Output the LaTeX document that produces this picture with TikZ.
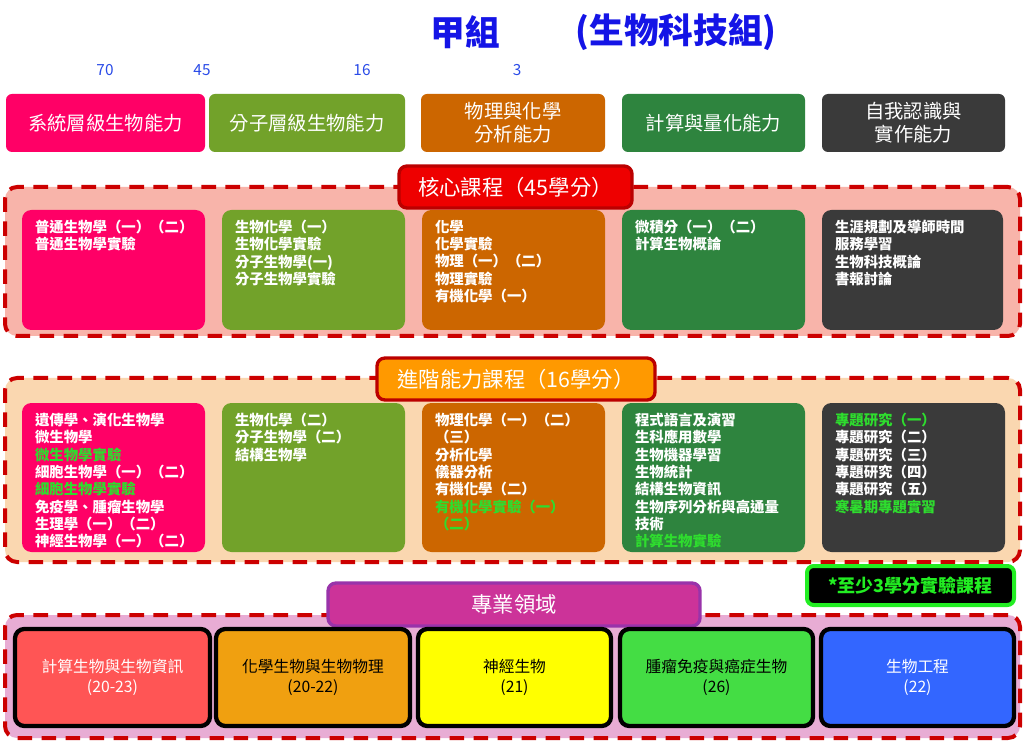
\documentclass[tikz,border=0pt]{standalone}
\usepackage{fontspec}
\setmainfont{Noto Sans CJK TC}
\usetikzlibrary{calc}
\definecolor{cTitle}{HTML}{1414E6}
\definecolor{cNum}{HTML}{2A4BE8}
\definecolor{cPink}{HTML}{FF0066}
\definecolor{cOlive}{HTML}{72A22A}
\definecolor{cOrange}{HTML}{CC6600}
\definecolor{cGreenD}{HTML}{2E843E}
\definecolor{cDark}{HTML}{3A3A3A}
\definecolor{cCoreBg}{HTML}{F8B4AA}
\definecolor{cAdvBg}{HTML}{FAD7B0}
\definecolor{cDomBg}{HTML}{E8ACD4}
\definecolor{cDash}{HTML}{CC0000}
\definecolor{cDarkRed}{HTML}{BB0000}
\definecolor{cCoreT}{HTML}{EE0000}
\definecolor{cAdvT}{HTML}{FF9900}
\definecolor{cDomT}{HTML}{CC3399}
\definecolor{cDomTB}{HTML}{9933AA}
\definecolor{cLGreen}{HTML}{2EDD2E}
\definecolor{cNoteG}{HTML}{22EE22}
\definecolor{cD1}{HTML}{FF5555}
\definecolor{cD2}{HTML}{F0A010}
\definecolor{cD3}{HTML}{FFFF00}
\definecolor{cD4}{HTML}{44DD44}
\definecolor{cD5}{HTML}{3366FF}
\newcommand\mybox[7]{%
  \pgfmathsetmacro\bcx{(#2+#4)/2}\pgfmathsetmacro\bcy{(#3+#5)/2}%
  \pgfmathsetmacro\bww{(#4-#2)*0.75}\pgfmathsetmacro\bhh{(#5-#3)*0.75}%
  \node[#6, minimum width=\bww pt, minimum height=\bhh pt] (#1) at (\bcx,\bcy) {#7};}
\begin{document}
\begin{tikzpicture}[x=0.75pt,y=-0.75pt,
  topbox/.style={rounded corners=4.5pt, inner sep=0pt, text=white, align=center, font=\fontsize{14.5}{17}\selectfont},
  listbox/.style={rounded corners=7pt, inner sep=0pt},
  listtext/.style={anchor=north west, inner sep=0pt, align=left, text=white, font=\bfseries\fontsize{10.8}{13}\selectfont},
  section/.style={rounded corners=9pt, inner sep=0pt, draw=cDash, line width=3pt, dash pattern=on 11pt off 7pt},
  titlebox/.style={rounded corners=6pt, inner sep=0pt, line width=2.5pt, draw=cDarkRed, text=white, font=\fontsize{16}{18}\selectfont},
  dombox/.style={rounded corners=7pt, inner sep=0pt, draw=black, line width=3.2pt, align=center, font=\fontsize{11.8}{15}\selectfont},
  numtext/.style={text=cNum, font=\fontsize{11.5}{13}\selectfont, inner sep=0pt}]
\useasboundingbox (0,0) rectangle (1024,741);
\fill[white] (0,0) rectangle (1024,741);
% title
\node[text=cTitle, font=\bfseries\fontsize{26}{30}\selectfont, inner sep=0pt] (tA) at (465,32) {甲組};
\node[text=cTitle, font=\bfseries\fontsize{26}{30}\selectfont, inner sep=0pt] (tB) at (676,32) {(生物科技組)};
% numbers
\node[numtext] (n70) at (105,70) {70};
\node[numtext] (n45) at (202,70) {45};
\node[numtext] (n16) at (362,70) {16};
\node[numtext] (n3) at (517,70) {3};
% top row
\mybox{a1}{6}{94}{205}{152}{topbox, fill=cPink}{系統層級生物能力}
\mybox{a2}{209}{94}{405}{152}{topbox, fill=cOlive}{分子層級生物能力}
\mybox{a3}{421}{94}{605}{152}{topbox, fill=cOrange}{物理與化學\\分析能力}
\mybox{a4}{622}{94}{805}{152}{topbox, fill=cGreenD}{計算與量化能力}
\mybox{a5}{822}{94}{1005}{152}{topbox, fill=cDark}{自我認識與\\實作能力}
% core section
\mybox{core}{5}{187}{1020}{336}{section, fill=cCoreBg}{}
\mybox{coreT}{399}{166}{632}{208}{titlebox, fill=cCoreT}{核心課程（45學分）}
\mybox{c1}{22}{210}{205}{330}{listbox, fill=cPink}{}
\mybox{c2}{222}{210}{405}{330}{listbox, fill=cOlive}{}
\mybox{c3}{422}{210}{605}{330}{listbox, fill=cOrange}{}
\mybox{c4}{622}{210}{805}{330}{listbox, fill=cGreenD}{}
\mybox{c5}{822}{210}{1003}{330}{listbox, fill=cDark}{}
\node[listtext] (tc1) at ($(c1.north west)+(13,10)$) {普通生物學（一）（二）\\普通生物學實驗};
\node[listtext] (tc2) at ($(c2.north west)+(13,10)$) {生物化學（一）\\生物化學實驗\\分子生物學(一)\\分子生物學實驗};
\node[listtext] (tc3) at ($(c3.north west)+(13,10)$) {化學\\化學實驗\\物理（一）（二）\\物理實驗\\有機化學（一）};
\node[listtext] (tc4) at ($(c4.north west)+(13,10)$) {微積分（一）（二）\\計算生物概論};
\node[listtext] (tc5) at ($(c5.north west)+(13,10)$) {生涯規劃及導師時間\\服務學習\\生物科技概論\\書報討論};
% advanced section
\mybox{adv}{5}{378}{1020}{562}{section, fill=cAdvBg}{}
\mybox{advT}{377}{358}{655}{400}{titlebox, fill=cAdvT}{進階能力課程（16學分）}
\mybox{d1}{22}{403}{205}{552}{listbox, fill=cPink}{}
\mybox{d2}{222}{403}{405}{552}{listbox, fill=cOlive}{}
\mybox{d3}{422}{403}{605}{552}{listbox, fill=cOrange}{}
\mybox{d4}{622}{403}{805}{552}{listbox, fill=cGreenD}{}
\mybox{d5}{822}{403}{1005}{552}{listbox, fill=cDark}{}
\node[listtext] (td1) at ($(d1.north west)+(13,10)$) {遺傳學、演化生物學\\微生物學\\\textcolor{cLGreen}{微生物學實驗}\\細胞生物學（一）（二）\\\textcolor{cLGreen}{細胞生物學實驗}\\免疫學、腫瘤生物學\\生理學（一）（二）\\神經生物學（一）（二）};
\node[listtext] (td2) at ($(d2.north west)+(13,10)$) {生物化學（二）\\分子生物學（二）\\結構生物學};
\node[listtext] (td3) at ($(d3.north west)+(13,10)$) {物理化學（一）（二）\\（三）\\分析化學\\儀器分析\\有機化學（二）\\\textcolor{cLGreen}{有機化學實驗（一）}\\\textcolor{cLGreen}{（二）}};
\node[listtext] (td4) at ($(d4.north west)+(13,10)$) {程式語言及演習\\生科應用數學\\生物機器學習\\生物統計\\結構生物資訊\\生物序列分析與高通量\\技術\\\textcolor{cLGreen}{計算生物實驗}};
\node[listtext] (td5) at ($(d5.north west)+(13,10)$) {\textcolor{cLGreen}{專題研究（一）}\\專題研究（二）\\專題研究（三）\\專題研究（四）\\專題研究（五）\\\textcolor{cLGreen}{寒暑期專題實習}};
% note
\mybox{note}{807}{566}{1014}{605}{rounded corners=5pt, inner sep=0pt, fill=black, draw=cNoteG, line width=3pt, text=cNoteG, font=\bfseries\fontsize{13.5}{16}\selectfont}{*至少3學分實驗課程}
% domain section
\mybox{dom}{5}{615}{1020}{738}{section, fill=cDomBg}{}
\mybox{domT}{328}{583}{700}{626}{rounded corners=6pt, inner sep=0pt, fill=cDomT, draw=cDomTB, line width=2.5pt, text=white, font=\fontsize{16}{18}\selectfont}{專業領域}
\mybox{e1}{15}{629}{210}{726}{dombox, fill=cD1, text=white}{計算生物與生物資訊\\(20-23)}
\mybox{e2}{216}{629}{410}{726}{dombox, fill=cD2, text=black}{化學生物與生物物理\\(20-22)}
\mybox{e3}{418}{629}{611}{726}{dombox, fill=cD3, text=black}{神經生物\\(21)}
\mybox{e4}{620}{629}{813}{726}{dombox, fill=cD4, text=black}{腫瘤免疫與癌症生物\\(26)}
\mybox{e5}{821}{629}{1014}{726}{dombox, fill=cD5, text=white}{生物工程\\(22)}
\end{tikzpicture}
\end{document}
